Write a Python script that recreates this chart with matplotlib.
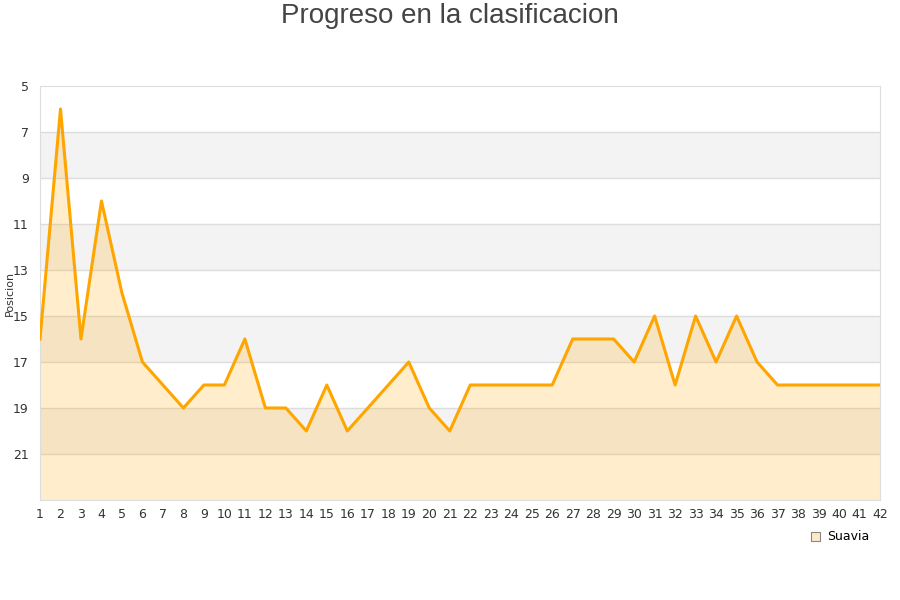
import matplotlib
matplotlib.use("Agg")
import matplotlib.pyplot as plt
from matplotlib.patches import Rectangle

jornadas = list(range(1, 43))
posiciones = [16, 6, 16, 10, 14, 17, 18, 19, 18, 18, 16, 19, 19, 20, 18, 20, 19, 18, 17, 19,
              20, 18, 18, 18, 18, 18, 16, 16, 16, 17, 15, 18, 15, 17, 15, 17, 18, 18, 18, 18,
              18, 18]
yticks = [5, 7, 9, 11, 13, 15, 17, 19, 21]
equipo = "Suavia"
titulo = "Progreso en la clasificacion"

fig = plt.figure(figsize=(9, 6), dpi=100)
ax = fig.add_axes([40/900, 100/600, 840/900, 414/600])
ymin, ymax = 5, 23
ax.set_xlim(1, 42)
ax.set_ylim(ymax, ymin)

# alternating bands
for i, t in enumerate(yticks):
    if i % 2 == 1:
        ax.axhspan(t, t + 2, color="#f3f3f3", zorder=0, lw=0)
for t in yticks[1:]:
    ax.axhline(t, color="#dddddd", lw=1, zorder=1)

ax.fill_between(jornadas, posiciones, ymax, color="#FFA500", alpha=0.2, lw=0, zorder=2)
ax.plot(jornadas, posiciones, color="#FFA500", lw=2.2, zorder=3)

ax.set_yticks(yticks)
ax.set_xticks(jornadas)
ax.tick_params(axis="both", length=0, labelsize=9, colors="#333333", pad=6)
ax.tick_params(axis="y", pad=8)
for s in ["top", "right", "bottom", "left"]:
    ax.spines[s].set_color("#dddddd")
ax.set_ylabel("Posicion", fontsize=8, color="#333333")
ax.yaxis.set_label_coords(-25/840, 0.5)

fig.text(0.5, 1 - 16/600, titulo, ha="center", va="center", fontsize=20,
         color="#444444", family=["Liberation Sans", "DejaVu Sans"])

h = Rectangle((0, 0), 1, 1, facecolor="#fdebc8", edgecolor="#888888", lw=0.8)
fig.legend([h], [equipo], loc="center", bbox_to_anchor=(840/900, 1 - 537/600),
           frameon=False, fontsize=9, handlelength=0.7, handleheight=0.7, handletextpad=0.6)

fig.savefig("out.png", dpi=100)
